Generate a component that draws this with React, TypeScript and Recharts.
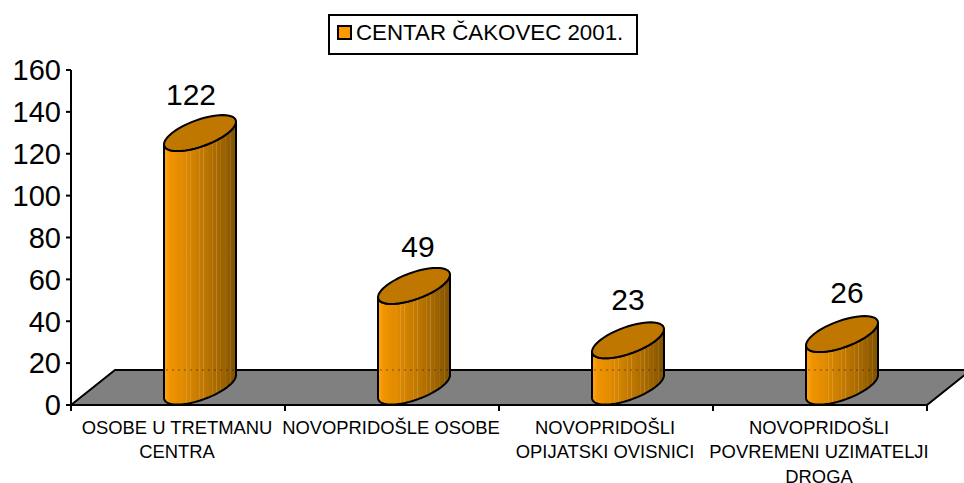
import React from "react";
import { BarChart, Bar, XAxis, YAxis, Legend, LabelList, ReferenceArea } from "recharts";

const seriesName = "CENTAR ČAKOVEC 2001.";
const categories = [
  "OSOBE U TRETMANU|CENTRA",
  "NOVOPRIDOŠLE OSOBE",
  "NOVOPRIDOŠLI|OPIJATSKI OVISNICI",
  "NOVOPRIDOŠLI|POVREMENI UZIMATELJI|DROGA",
];
const values = [122, 49, 23, 26];
const yTicks = [0, 20, 40, 60, 80, 100, 120, 140, 160];

const data = categories.map((name, i) => ({ name, value: values[i] }));

const FONT = "'Liberation Sans', Arial, sans-serif";
const DEPTH_X = 44;
const DEPTH_Y = 35;
const HALF_W = 36;
const TILT_Y = 18;
const TILT_X = (TILT_Y * DEPTH_X) / DEPTH_Y;
const AXIS_A = Math.sqrt(HALF_W * HALF_W - TILT_X * TILT_X);
const T0 = Math.atan2(TILT_X, AXIS_A);
const LABEL_NUDGE = [-9, 4, 0, 5];
const LABEL_RISE = [55, 55, 57, 58];
const STRIPES = [0.25, 0.31, 0.37, 0.49, 0.55, 0.67, 0.73, 0.79, 0.86, 0.92];

const ell = (cx: number, cy: number, t: number) => [
  cx + AXIS_A * Math.cos(t) + TILT_X * Math.sin(t),
  cy - TILT_Y * Math.sin(t),
];

const arc = (cx: number, cy: number, from: number, to: number) => {
  const pts: string[] = [];
  for (let i = 0; i <= 48; i++) {
    const [x, y] = ell(cx, cy, from + ((to - from) * i) / 48);
    pts.push(`${x.toFixed(2)} ${y.toFixed(2)}`);
  }
  return pts;
};

const Cylinder = (props: any) => {
  const { x, y, width, height } = props;
  const cx = x + width / 2 + DEPTH_X / 2;
  const topC = y - DEPTH_Y / 2 + 1;
  const baseC = y + height - DEPTH_Y / 2 - 1;
  const lower = arc(cx, baseC, T0 + Math.PI, T0 + 2 * Math.PI);
  const upperFront = arc(cx, topC, T0, T0 - Math.PI);
  const side = `M${lower.join(" L")} L${upperFront.join(" L")} Z`;
  const topAll = `M${arc(cx, topC, 0, 2 * Math.PI).join(" L")} Z`;
  const floorY = y + height - DEPTH_Y;
  return (
    <g>
      <path d={side} fill="url(#cylShade)" />
      <path d={side} fill="url(#cylStripes)" />
      {floorY > topC && (
        <line
          x1={cx - HALF_W + 2}
          x2={cx + HALF_W - 1}
          y1={floorY}
          y2={floorY}
          stroke="#000"
          strokeOpacity={0.22}
          strokeWidth={2}
          strokeDasharray="2 4"
        />
      )}
      <path d={side} fill="none" stroke="#000" strokeWidth={2} strokeLinejoin="round" />
      <path d={topAll} fill="#BF7700" stroke="#000" strokeWidth={2} strokeLinejoin="round" />
    </g>
  );
};

const Floor = (props: any) => {
  const { x, y, width, height } = props;
  const b = y + height;
  const r = x + width;
  const step = width / categories.length;
  const marks = categories.map((_, i) => x + step * i).concat(r);
  return (
    <g>
      <polygon
        points={`${x},${b} ${x + DEPTH_X},${b - DEPTH_Y} ${r + DEPTH_X},${b - DEPTH_Y} ${r},${b}`}
        fill="#808080"
        stroke="#000"
        strokeWidth={2}
      />
      {marks.map((m, i) => (
        <line key={i} x1={m} x2={m} y1={b} y2={b + 6} stroke="#000" strokeWidth={2} />
      ))}
    </g>
  );
};

const CategoryTick = (props: any) => {
  const { x, y, payload } = props;
  const lines = String(payload.value).split("|");
  return (
    <text x={x - 1} textAnchor="middle" fontFamily={FONT} fontSize={18.4} fill="#000">
      {lines.map((l, i) => (
        <tspan key={i} x={x - 1} y={y + 21 + i * 24.3}>
          {l}
        </tspan>
      ))}
    </text>
  );
};

const ValueLabel = (props: any) => {
  const { x, y, width, value, index } = props;
  return (
    <text
      x={x + width / 2 + DEPTH_X / 2 + LABEL_NUDGE[index]}
      y={y - LABEL_RISE[index] + 10}
      textAnchor="middle"
      fontFamily={FONT}
      fontSize={30}
      fill="#000"
    >
      {value}
    </text>
  );
};

const LegendBox = (props: any) => {
  const item = props.payload?.[0];
  return (
    <div
      style={{
        boxSizing: "border-box",
        width: 310,
        height: 41,
        border: "2px solid #000",
        background: "#fff",
        position: "relative",
        fontFamily: FONT,
        fontSize: 22.3,
        color: "#000",
      }}
    >
      <div
        style={{
          position: "absolute",
          left: 7,
          top: 9,
          width: 15,
          height: 15,
          boxSizing: "border-box",
          border: "2px solid #000",
          background: "#FF9900",
        }}
      />
      <div style={{ position: "absolute", left: 26, top: 4, lineHeight: "25px", whiteSpace: "nowrap" }}>
        {item?.value}
      </div>
    </div>
  );
};

export default function App() {
  return (
    <div style={{ position: "absolute", left: 0, top: 0, width: 964, height: 483, background: "#fff" }}>
      <svg width={0} height={0} style={{ position: "absolute" }}>
        <defs>
          <linearGradient id="cylShade" x1="0" y1="0" x2="1" y2="0">
            <stop offset="0" stopColor="#FFA51E" />
            <stop offset="0.08" stopColor="#F09400" />
            <stop offset="0.3" stopColor="#DD8800" />
            <stop offset="0.55" stopColor="#BF7700" />
            <stop offset="0.8" stopColor="#A06400" />
            <stop offset="1" stopColor="#7F5200" />
          </linearGradient>
          <linearGradient id="cylStripes" x1="0" y1="0" x2="1" y2="0">
            {STRIPES.flatMap((s, i) => [
              <stop key={`${i}a`} offset={s - 0.008} stopColor="#fff" stopOpacity={0} />,
              <stop key={`${i}b`} offset={s} stopColor="#fff" stopOpacity={0.2} />,
              <stop key={`${i}c`} offset={s + 0.008} stopColor="#fff" stopOpacity={0} />,
            ])}
          </linearGradient>
        </defs>
      </svg>
      <BarChart
        width={964}
        height={483}
        data={data}
        margin={{ top: 70, right: 37, bottom: 0, left: 0 }}
        barCategoryGap={0}
      >
        <ReferenceArea y1={0} y2={160} shape={<Floor />} ifOverflow="visible" />
        <XAxis
          dataKey="name"
          axisLine={false}
          tickLine={false}
          interval={0}
          height={78}
          tick={<CategoryTick />}
        />
        <YAxis
          width={71}
          domain={[0, 160]}
          ticks={yTicks}
          interval={0}
          axisLine={{ stroke: "#000", strokeWidth: 2 }}
          tickLine={{ stroke: "#000", strokeWidth: 2 }}
          tickSize={5}
          tickMargin={5}
          tick={{ fill: "#000", fontSize: 29, fontFamily: FONT }}
        />
        <Legend
          layout="vertical"
          align="center"
          verticalAlign="middle"
          content={<LegendBox />}
          wrapperStyle={{ position: "absolute", left: 328, top: 14, width: 310, height: 41 }}
        />
        <Bar
          dataKey="value"
          name={seriesName}
          fill="#FF9900"
          barSize={28}
          shape={<Cylinder />}
          isAnimationActive={false}
        >
          <LabelList dataKey="value" content={<ValueLabel />} />
        </Bar>
      </BarChart>
    </div>
  );
}
